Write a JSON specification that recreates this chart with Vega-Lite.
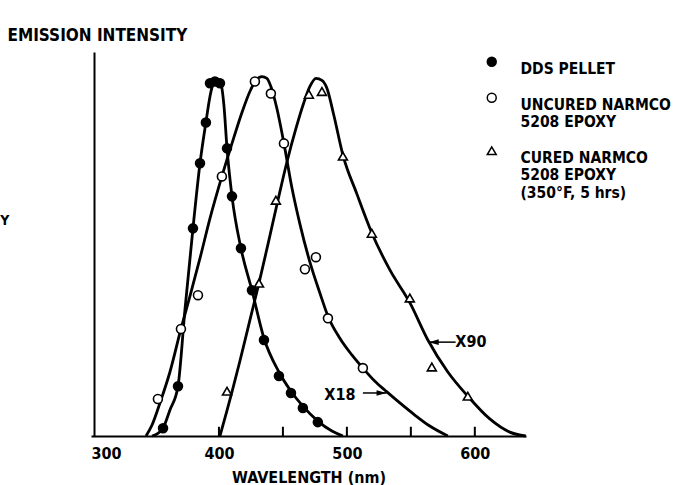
{
  "$schema": "https://vega.github.io/schema/vega-lite/v6.json",
  "width": 435,
  "height": 384,
  "autosize": {"type": "none"},
  "padding": {"left": 91, "top": 52, "right": 148, "bottom": 49},
  "background": "white",
  "config": {"view": {"stroke": null}, "font": "DejaVu Sans Condensed"},
  "datasets": {
    "curves": [
      {"series": "DDS PELLET", "nm": 347.7, "I": 0},
      {"series": "DDS PELLET", "nm": 351.6, "I": 0.6},
      {"series": "DDS PELLET", "nm": 356.3, "I": 2.2},
      {"series": "DDS PELLET", "nm": 361.7, "I": 7.3},
      {"series": "DDS PELLET", "nm": 368.0, "I": 14.0},
      {"series": "DDS PELLET", "nm": 373.4, "I": 35.4},
      {"series": "DDS PELLET", "nm": 379.7, "I": 58.4},
      {"series": "DDS PELLET", "nm": 385.2, "I": 76.7},
      {"series": "DDS PELLET", "nm": 389.8, "I": 88.2},
      {"series": "DDS PELLET", "nm": 393.0, "I": 95.5},
      {"series": "DDS PELLET", "nm": 395.3, "I": 98.9},
      {"series": "DDS PELLET", "nm": 398.4, "I": 100},
      {"series": "DDS PELLET", "nm": 401.6, "I": 98.9},
      {"series": "DDS PELLET", "nm": 403.9, "I": 93.0},
      {"series": "DDS PELLET", "nm": 406.3, "I": 80.9},
      {"series": "DDS PELLET", "nm": 410.2, "I": 67.4},
      {"series": "DDS PELLET", "nm": 417.2, "I": 52.8},
      {"series": "DDS PELLET", "nm": 425.8, "I": 41.0},
      {"series": "DDS PELLET", "nm": 435.2, "I": 27.5},
      {"series": "DDS PELLET", "nm": 446.9, "I": 18.0},
      {"series": "DDS PELLET", "nm": 456.3, "I": 12.6},
      {"series": "DDS PELLET", "nm": 465.6, "I": 8.4},
      {"series": "DDS PELLET", "nm": 477.3, "I": 4.2},
      {"series": "DDS PELLET", "nm": 488.3, "I": 1.4},
      {"series": "DDS PELLET", "nm": 496.9, "I": 0},
      {"series": "UNCURED NARMCO 5208 EPOXY", "nm": 343.0, "I": 0},
      {"series": "UNCURED NARMCO 5208 EPOXY", "nm": 347.7, "I": 3.1},
      {"series": "UNCURED NARMCO 5208 EPOXY", "nm": 353.9, "I": 9.3},
      {"series": "UNCURED NARMCO 5208 EPOXY", "nm": 361.7, "I": 18.0},
      {"series": "UNCURED NARMCO 5208 EPOXY", "nm": 370.3, "I": 30.1},
      {"series": "UNCURED NARMCO 5208 EPOXY", "nm": 377.3, "I": 39.3},
      {"series": "UNCURED NARMCO 5208 EPOXY", "nm": 385.2, "I": 50.0},
      {"series": "UNCURED NARMCO 5208 EPOXY", "nm": 393.0, "I": 61.2},
      {"series": "UNCURED NARMCO 5208 EPOXY", "nm": 402.3, "I": 73.0},
      {"series": "UNCURED NARMCO 5208 EPOXY", "nm": 410.2, "I": 82.3},
      {"series": "UNCURED NARMCO 5208 EPOXY", "nm": 418.0, "I": 91.0},
      {"series": "UNCURED NARMCO 5208 EPOXY", "nm": 424.2, "I": 96.9},
      {"series": "UNCURED NARMCO 5208 EPOXY", "nm": 428.9, "I": 100},
      {"series": "UNCURED NARMCO 5208 EPOXY", "nm": 433.6, "I": 101.1},
      {"series": "UNCURED NARMCO 5208 EPOXY", "nm": 437.5, "I": 100.6},
      {"series": "UNCURED NARMCO 5208 EPOXY", "nm": 440.6, "I": 98.3},
      {"series": "UNCURED NARMCO 5208 EPOXY", "nm": 445.3, "I": 92.1},
      {"series": "UNCURED NARMCO 5208 EPOXY", "nm": 450.8, "I": 82.3},
      {"series": "UNCURED NARMCO 5208 EPOXY", "nm": 457.0, "I": 69.9},
      {"series": "UNCURED NARMCO 5208 EPOXY", "nm": 463.3, "I": 59.6},
      {"series": "UNCURED NARMCO 5208 EPOXY", "nm": 471.1, "I": 48.9},
      {"series": "UNCURED NARMCO 5208 EPOXY", "nm": 478.9, "I": 40.2},
      {"series": "UNCURED NARMCO 5208 EPOXY", "nm": 485.2, "I": 33.7},
      {"series": "UNCURED NARMCO 5208 EPOXY", "nm": 494.5, "I": 27.5},
      {"series": "UNCURED NARMCO 5208 EPOXY", "nm": 503.9, "I": 22.8},
      {"series": "UNCURED NARMCO 5208 EPOXY", "nm": 512.5, "I": 19.1},
      {"series": "UNCURED NARMCO 5208 EPOXY", "nm": 521.9, "I": 15.4},
      {"series": "UNCURED NARMCO 5208 EPOXY", "nm": 531.3, "I": 12.4},
      {"series": "UNCURED NARMCO 5208 EPOXY", "nm": 541.4, "I": 9.3},
      {"series": "UNCURED NARMCO 5208 EPOXY", "nm": 553.1, "I": 5.9},
      {"series": "UNCURED NARMCO 5208 EPOXY", "nm": 564.8, "I": 2.8},
      {"series": "UNCURED NARMCO 5208 EPOXY", "nm": 578.9, "I": 0},
      {"series": "CURED NARMCO 5208 EPOXY (350°F, 5 hrs)", "nm": 400.8, "I": 0},
      {"series": "CURED NARMCO 5208 EPOXY (350°F, 5 hrs)", "nm": 404.7, "I": 5.1},
      {"series": "CURED NARMCO 5208 EPOXY (350°F, 5 hrs)", "nm": 410.2, "I": 12.4},
      {"series": "CURED NARMCO 5208 EPOXY (350°F, 5 hrs)", "nm": 416.4, "I": 21.1},
      {"series": "CURED NARMCO 5208 EPOXY (350°F, 5 hrs)", "nm": 424.2, "I": 32.6},
      {"series": "CURED NARMCO 5208 EPOXY (350°F, 5 hrs)", "nm": 431.3, "I": 43.0},
      {"series": "CURED NARMCO 5208 EPOXY (350°F, 5 hrs)", "nm": 438.3, "I": 53.9},
      {"series": "CURED NARMCO 5208 EPOXY (350°F, 5 hrs)", "nm": 446.1, "I": 66.3},
      {"series": "CURED NARMCO 5208 EPOXY (350°F, 5 hrs)", "nm": 453.1, "I": 77.0},
      {"series": "CURED NARMCO 5208 EPOXY (350°F, 5 hrs)", "nm": 460.2, "I": 86.5},
      {"series": "CURED NARMCO 5208 EPOXY (350°F, 5 hrs)", "nm": 466.4, "I": 93.8},
      {"series": "CURED NARMCO 5208 EPOXY (350°F, 5 hrs)", "nm": 471.1, "I": 98.3},
      {"series": "CURED NARMCO 5208 EPOXY (350°F, 5 hrs)", "nm": 475.8, "I": 100.6},
      {"series": "CURED NARMCO 5208 EPOXY (350°F, 5 hrs)", "nm": 480.5, "I": 100.0},
      {"series": "CURED NARMCO 5208 EPOXY (350°F, 5 hrs)", "nm": 484.4, "I": 97.8},
      {"series": "CURED NARMCO 5208 EPOXY (350°F, 5 hrs)", "nm": 489.8, "I": 90.2},
      {"series": "CURED NARMCO 5208 EPOXY (350°F, 5 hrs)", "nm": 496.9, "I": 79.0},
      {"series": "CURED NARMCO 5208 EPOXY (350°F, 5 hrs)", "nm": 507.8, "I": 68.1},
      {"series": "CURED NARMCO 5208 EPOXY (350°F, 5 hrs)", "nm": 519.5, "I": 57.1},
      {"series": "CURED NARMCO 5208 EPOXY (350°F, 5 hrs)", "nm": 533.6, "I": 46.7},
      {"series": "CURED NARMCO 5208 EPOXY (350°F, 5 hrs)", "nm": 549.2, "I": 37.5},
      {"series": "CURED NARMCO 5208 EPOXY (350°F, 5 hrs)", "nm": 563.3, "I": 27.0},
      {"series": "CURED NARMCO 5208 EPOXY (350°F, 5 hrs)", "nm": 578.9, "I": 18.0},
      {"series": "CURED NARMCO 5208 EPOXY (350°F, 5 hrs)", "nm": 594.5, "I": 11.2},
      {"series": "CURED NARMCO 5208 EPOXY (350°F, 5 hrs)", "nm": 611.7, "I": 4.8},
      {"series": "CURED NARMCO 5208 EPOXY (350°F, 5 hrs)", "nm": 627.3, "I": 1.1},
      {"series": "CURED NARMCO 5208 EPOXY (350°F, 5 hrs)", "nm": 639.8, "I": 0}
    ],
    "markers": [
      {"series": "DDS PELLET", "nm": 356.3, "I": 2.2},
      {"series": "DDS PELLET", "nm": 368.0, "I": 14.0},
      {"series": "DDS PELLET", "nm": 379.7, "I": 58.4},
      {"series": "DDS PELLET", "nm": 385.2, "I": 76.7},
      {"series": "DDS PELLET", "nm": 389.8, "I": 88.2},
      {"series": "DDS PELLET", "nm": 393.0, "I": 99.2},
      {"series": "DDS PELLET", "nm": 396.9, "I": 99.7},
      {"series": "DDS PELLET", "nm": 400.8, "I": 99.2},
      {"series": "DDS PELLET", "nm": 406.3, "I": 80.9},
      {"series": "DDS PELLET", "nm": 410.2, "I": 67.4},
      {"series": "DDS PELLET", "nm": 417.2, "I": 52.8},
      {"series": "DDS PELLET", "nm": 425.8, "I": 41.0},
      {"series": "DDS PELLET", "nm": 435.2, "I": 27.0},
      {"series": "DDS PELLET", "nm": 446.9, "I": 16.9},
      {"series": "DDS PELLET", "nm": 456.3, "I": 12.1},
      {"series": "DDS PELLET", "nm": 465.6, "I": 7.9},
      {"series": "DDS PELLET", "nm": 477.3, "I": 3.9},
      {"series": "UNCURED NARMCO 5208 EPOXY", "nm": 352.3, "I": 10.4},
      {"series": "UNCURED NARMCO 5208 EPOXY", "nm": 370.3, "I": 30.1},
      {"series": "UNCURED NARMCO 5208 EPOXY", "nm": 383.6, "I": 39.6},
      {"series": "UNCURED NARMCO 5208 EPOXY", "nm": 402.3, "I": 73.0},
      {"series": "UNCURED NARMCO 5208 EPOXY", "nm": 428.1, "I": 99.7},
      {"series": "UNCURED NARMCO 5208 EPOXY", "nm": 440.6, "I": 96.3},
      {"series": "UNCURED NARMCO 5208 EPOXY", "nm": 450.8, "I": 82.3},
      {"series": "UNCURED NARMCO 5208 EPOXY", "nm": 467.2, "I": 46.9},
      {"series": "UNCURED NARMCO 5208 EPOXY", "nm": 475.8, "I": 50.3},
      {"series": "UNCURED NARMCO 5208 EPOXY", "nm": 485.2, "I": 33.1},
      {"series": "UNCURED NARMCO 5208 EPOXY", "nm": 512.5, "I": 19.1},
      {"series": "CURED NARMCO 5208 EPOXY (350°F, 5 hrs)", "nm": 406.3, "I": 12.6},
      {"series": "CURED NARMCO 5208 EPOXY (350°F, 5 hrs)", "nm": 431.3, "I": 43.0},
      {"series": "CURED NARMCO 5208 EPOXY (350°F, 5 hrs)", "nm": 444.5, "I": 66.3},
      {"series": "CURED NARMCO 5208 EPOXY (350°F, 5 hrs)", "nm": 470.3, "I": 96.1},
      {"series": "CURED NARMCO 5208 EPOXY (350°F, 5 hrs)", "nm": 480.5, "I": 96.9},
      {"series": "CURED NARMCO 5208 EPOXY (350°F, 5 hrs)", "nm": 496.9, "I": 78.7},
      {"series": "CURED NARMCO 5208 EPOXY (350°F, 5 hrs)", "nm": 519.5, "I": 57.0},
      {"series": "CURED NARMCO 5208 EPOXY (350°F, 5 hrs)", "nm": 549.2, "I": 38.8},
      {"series": "CURED NARMCO 5208 EPOXY (350°F, 5 hrs)", "nm": 566.4, "I": 19.4},
      {"series": "CURED NARMCO 5208 EPOXY (350°F, 5 hrs)", "nm": 594.5, "I": 11.2}
    ],
    "ticks": [{"nm": 400}, {"nm": 450}, {"nm": 500}, {"nm": 550}, {"nm": 600}],
    "notes": [
      {"label": "X18", "tx": 494.5, "ty": 11.5, "a0": 512.5, "a1": 531.0, "ay": 12.1},
      {"label": "X90", "tx": 596.9, "ty": 26.4, "a0": 585.0, "a1": 564.0, "ay": 26.4}
    ],
    "stray": [{"t": "Y", "nm": 229, "I": 60.5}]
  },
  "layer": [
    {
      "data": {"name": "curves"},
      "mark": {"type": "line", "interpolate": "monotone", "color": "black", "strokeWidth": 2.8},
      "encoding": {
        "x": {
          "field": "nm", "type": "quantitative",
          "scale": {"domain": [300, 640], "nice": false, "zero": false},
          "axis": {
            "values": [300, 400, 500, 600],
            "ticks": false, "grid": false,
            "domainColor": "black", "domainWidth": 2,
            "labelFont": "DejaVu Sans Condensed", "labelFontSize": 16, "labelFontWeight": "bold", "labelColor": "black",
            "labelPadding": 9, "labelBaseline": "top",
            "labelAlign": {"condition": {"test": "datum.value == 300", "value": "left"}, "value": "center"},
            "labelFlush": false, "labelOverlap": false, "labelBound": false,
            "title": "WAVELENGTH (nm)",
            "titleFont": "DejaVu Sans Condensed", "titleFontSize": 16, "titleFontWeight": "bold", "titleColor": "black",
            "titleBaseline": "alphabetic", "titleY": 46
          }
        },
        "y": {
          "field": "I", "type": "quantitative",
          "scale": {"domain": [0, 108], "nice": false},
          "axis": {
            "ticks": false, "labels": false, "grid": false,
            "domainColor": "black", "domainWidth": 2, "offset": -3,
            "title": "EMISSION INTENSITY",
            "titleFont": "DejaVu Sans Condensed", "titleFontSize": 17, "titleFontWeight": "bold", "titleColor": "black",
            "titleAngle": 0, "titleAlign": "left", "titleBaseline": "alphabetic",
            "titleX": -87, "titleY": -12
          }
        },
        "detail": {"field": "series"}
      }
    },
    {
      "data": {"name": "markers"},
      "mark": {"type": "point", "filled": true, "strokeWidth": 1.6, "size": 80, "opacity": 1},
      "encoding": {
        "x": {"field": "nm", "type": "quantitative"},
        "y": {"field": "I", "type": "quantitative"},
        "shape": {
          "field": "series", "type": "nominal",
          "scale": {"domain": ["DDS PELLET", "UNCURED NARMCO 5208 EPOXY", "CURED NARMCO 5208 EPOXY (350°F, 5 hrs)"], "range": ["circle", "circle", "triangle-up"]},
          "legend": {
            "orient": "none", "legendX": 393, "legendY": 2, "title": null, "padding": 0,
            "labelFont": "DejaVu Sans Condensed", "labelFontSize": 15.5, "labelFontWeight": "bold", "labelColor": "black", "labelLimit": 400,
            "labelExpr": "datum.label == 'DDS PELLET' ? 'DDS PELLET' : (datum.label == 'UNCURED NARMCO 5208 EPOXY' ? ['UNCURED NARMCO', '5208 EPOXY'] : ['CURED NARMCO', '5208 EPOXY', '(350°F, 5 hrs)'])",
            "labelBaseline": "top", "labelOffset": 21,
            "symbolSize": 80, "symbolStrokeColor": "black", "symbolStrokeWidth": 1.5,
            "rowPadding": 12
          }
        },
        "fill": {
          "field": "series", "type": "nominal",
          "scale": {"domain": ["DDS PELLET", "UNCURED NARMCO 5208 EPOXY", "CURED NARMCO 5208 EPOXY (350°F, 5 hrs)"], "range": ["black", "white", "white"]},
          "legend": {
            "orient": "none", "legendX": 393, "legendY": 2, "title": null, "padding": 0,
            "labelFont": "DejaVu Sans Condensed", "labelFontSize": 15.5, "labelFontWeight": "bold", "labelColor": "black", "labelLimit": 400,
            "labelExpr": "datum.label == 'DDS PELLET' ? 'DDS PELLET' : (datum.label == 'UNCURED NARMCO 5208 EPOXY' ? ['UNCURED NARMCO', '5208 EPOXY'] : ['CURED NARMCO', '5208 EPOXY', '(350°F, 5 hrs)'])",
            "labelBaseline": "top", "labelOffset": 21,
            "symbolSize": 80, "symbolStrokeColor": "black", "symbolStrokeWidth": 1.5,
            "rowPadding": 12
          }
        },
        "stroke": {
          "field": "series", "type": "nominal",
          "scale": {"domain": ["DDS PELLET", "UNCURED NARMCO 5208 EPOXY", "CURED NARMCO 5208 EPOXY (350°F, 5 hrs)"], "range": ["black", "black", "black"]},
          "legend": {
            "orient": "none", "legendX": 393, "legendY": 2, "title": null, "padding": 0,
            "labelFont": "DejaVu Sans Condensed", "labelFontSize": 15.5, "labelFontWeight": "bold", "labelColor": "black", "labelLimit": 400,
            "labelExpr": "datum.label == 'DDS PELLET' ? 'DDS PELLET' : (datum.label == 'UNCURED NARMCO 5208 EPOXY' ? ['UNCURED NARMCO', '5208 EPOXY'] : ['CURED NARMCO', '5208 EPOXY', '(350°F, 5 hrs)'])",
            "labelBaseline": "top", "labelOffset": 21,
            "symbolSize": 80, "symbolStrokeColor": "black", "symbolStrokeWidth": 1.5,
            "rowPadding": 12
          }
        }
      }
    },
    {
      "data": {"name": "ticks"},
      "mark": {"type": "rule", "color": "black", "strokeWidth": 2},
      "encoding": {
        "x": {"field": "nm", "type": "quantitative"},
        "y": {"datum": 0},
        "y2": {"datum": 2.6}
      }
    },
    {
      "data": {"name": "notes"},
      "mark": {"type": "text", "font": "DejaVu Sans Condensed", "fontSize": 16, "fontWeight": "bold", "color": "black", "align": "center", "baseline": "middle"},
      "encoding": {
        "x": {"field": "tx", "type": "quantitative"},
        "y": {"field": "ty", "type": "quantitative"},
        "text": {"field": "label"}
      }
    },
    {
      "data": {"name": "notes"},
      "mark": {"type": "rule", "color": "black", "strokeWidth": 1.5},
      "encoding": {
        "x": {"field": "a0", "type": "quantitative"},
        "x2": {"field": "a1"},
        "y": {"field": "ay", "type": "quantitative"}
      }
    },
    {
      "data": {"name": "notes"},
      "transform": [{"filter": "datum.label == 'X18'"}],
      "mark": {"type": "point", "shape": "M-2.5,-0.7L0,0L-2.5,0.7Z", "filled": true, "color": "black", "size": 64, "opacity": 1},
      "encoding": {
        "x": {"field": "a1", "type": "quantitative"},
        "y": {"field": "ay", "type": "quantitative"}
      }
    },
    {
      "data": {"name": "notes"},
      "transform": [{"filter": "datum.label == 'X90'"}],
      "mark": {"type": "point", "shape": "M2.5,-0.7L0,0L2.5,0.7Z", "filled": true, "color": "black", "size": 64, "opacity": 1},
      "encoding": {
        "x": {"field": "a1", "type": "quantitative"},
        "y": {"field": "ay", "type": "quantitative"}
      }
    },
    {
      "data": {"name": "stray"},
      "mark": {"type": "text", "font": "DejaVu Sans Condensed", "fontSize": 14, "fontWeight": "bold", "color": "black", "align": "left", "baseline": "middle"},
      "encoding": {
        "x": {"field": "nm", "type": "quantitative"},
        "y": {"field": "I", "type": "quantitative"},
        "text": {"field": "t"}
      }
    }
  ]
}
